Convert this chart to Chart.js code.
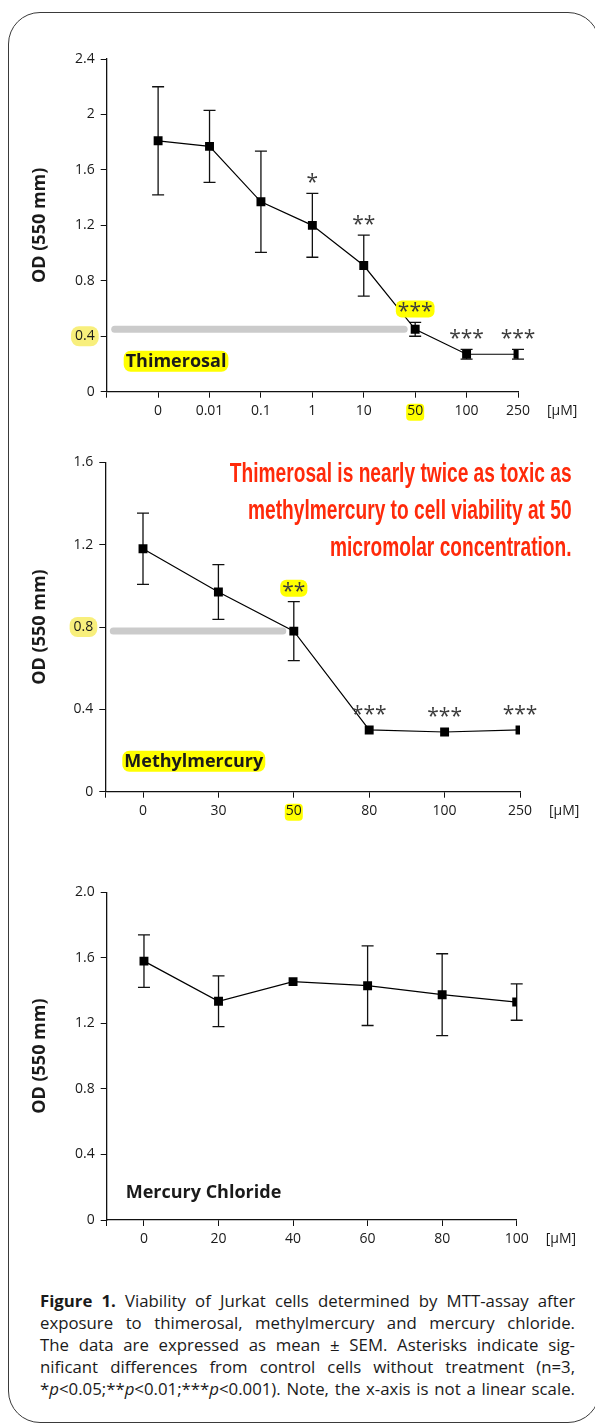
<!DOCTYPE html>
<html>
<head>
<meta charset="utf-8">
<title>Figure 1 - MTT viability</title>
<script src="https://cdn.jsdelivr.net/npm/chart.js@4.4.0/dist/chart.umd.min.js"></script>
<style>
  html, body { margin: 0; padding: 0; background: #fff; }
  body { width: 595px; height: 1425px; position: relative; overflow: hidden;
         font-family: 'Open Sans', 'Noto Sans', sans-serif; color: #1a1a1a; }
  .frame { position: absolute; left: 8px; top: 12px; width: 592px; height: 1411px;
           border: 1.3px solid #3a3a3a; border-radius: 32px; box-sizing: border-box; }
  canvas { position: absolute; left: 0; }
  #thimChart { top: 40px; }
  #methylChart { top: 440px; }
  #hgChart { top: 850px; }
  .note { position: absolute; right: 23px; top: 454px; white-space: nowrap;
          font-family: 'Liberation Sans', Arial, sans-serif; font-weight: bold;
          font-size: 28px; line-height: 37px; color: #ff2a0a; text-align: right;
          transform-origin: right top; }
  .caption { position: absolute; left: 40px; top: 1290px; width: 535px;
             font-size: 16.8px; line-height: 22px; color: #1a1a1a; }
  .caption .ln { white-space: nowrap; }
</style>
</head>
<body>
<div class="frame"></div>
<canvas id="thimChart" width="595" height="400"></canvas>
<canvas id="methylChart" width="595" height="400"></canvas>
<canvas id="hgChart" width="595" height="400"></canvas>

<div class="note" id="note">Thimerosal is nearly twice as toxic as<br>methylmercury to cell viability at 50<br>micromolar concentration.</div>

<div class="caption">
  <div class="ln"><span><b>Figure 1.</b> Viability of Jurkat cells determined by MTT-assay after</span></div>
  <div class="ln"><span>exposure to thimerosal, methylmercury and mercury chloride.</span></div>
  <div class="ln"><span>The data are expressed as mean ± SEM. Asterisks indicate sig-</span></div>
  <div class="ln"><span>nificant differences from control cells without treatment (n=3,</span></div>
  <div class="ln"><span>*<i>p</i>&lt;0.05;**<i>p</i>&lt;0.01;***<i>p</i>&lt;0.001). Note, the x-axis is not a linear scale.</span></div>
</div>

<script>
'use strict';

/* ----------------------------------------------------------
   DATA
---------------------------------------------------------- */
const thimLabels = ['0', '0.01', '0.1', '1', '10', '50', '100', '250'];
const thimMeans  = [1.81, 1.77, 1.37, 1.20, 0.91, 0.45, 0.27, 0.27];
const thimErrors = [0.39, 0.26, 0.365, 0.23, 0.22, 0.05, 0.035, 0.035];
const thimStars  = ['', '', '', '*', '**', '***', '***', '***'];
const thimYTicks = ['0', '0.4', '0.8', '1.2', '1.6', '2', '2.4'];

const methylLabels = ['0', '30', '50', '80', '100', '250'];
const methylMeans  = [1.18, 0.97, 0.78, 0.30, 0.29, 0.30];
const methylErrors = [0.173, 0.133, 0.143, 0, 0, 0];
const methylStars  = ['', '', '**', '***', '***', '***'];
const methylYTicks = ['0', '0.4', '0.8', '1.2', '1.6'];

const hgLabels = ['0', '20', '40', '60', '80', '100'];
const hgMeans  = [1.58, 1.335, 1.455, 1.43, 1.375, 1.33];
const hgErrors = [0.16, 0.155, 0, 0.243, 0.25, 0.111];
const hgStars  = ['', '', '', '', '', ''];
const hgYTicks = ['0', '0.4', '0.8', '1.2', '1.6', '2.0'];

/* ----------------------------------------------------------
   STYLE
---------------------------------------------------------- */
const FONT_FAMILY = "'Open Sans', 'Noto Sans', sans-serif";
const TEXT_COLOR  = '#1a1a1a';
const STAR_COLOR  = '#3c3c3c';
const YELLOW      = '#ffff00';
const PALE_YELLOW = '#f8ef7c';
const BAR_GREY    = '#cbcbcb';
const TICK_LEN    = 6;
const TICK_SIZE   = 14;

/* ----------------------------------------------------------
   ANNOTATION PLUGIN
   error bars, grey reference bar, asterisks, highlights, labels
---------------------------------------------------------- */
function roundRect(ctx, x, y, w, h, r, color) {
  ctx.save();
  ctx.fillStyle = color;
  ctx.beginPath();
  ctx.roundRect(x, y, w, h, r);
  ctx.fill();
  ctx.restore();
}

const annotations = {
  id: 'annotations',

  beforeDraw(chart) {
    const a = chart.options.plugins.annotations;
    const ctx = chart.ctx;
    const xs = chart.scales.x, ys = chart.scales.y;
    ctx.save();
    ctx.font = `${TICK_SIZE}px ${FONT_FAMILY}`;

    /* highlight behind a y tick label */
    if (a.yHighlight != null) {
      const label = a.yTicks[a.yHighlight];
      const w = ctx.measureText(label).width;
      const py = ys.getPixelForValue(ys.ticks[a.yHighlight].value);
      const right = ys.right - TICK_LEN - 6;
      roundRect(ctx, right - w - 4, py - 10, w + 8, 20, 8, PALE_YELLOW);
    }
    /* highlight behind an x tick label */
    if (a.xHighlight != null) {
      const label = a.labels[a.xHighlight];
      const w = ctx.measureText(label).width;
      const px = xs.getPixelForValue(a.xHighlight);
      const top = xs.top + TICK_LEN + 6;
      roundRect(ctx, px - w / 2 - 1, top, w + 2, 17, 4, YELLOW);
    }
    ctx.restore();
  },

  beforeDatasetsDraw(chart) {
    const a = chart.options.plugins.annotations;
    const ctx = chart.ctx;
    const xs = chart.scales.x, ys = chart.scales.y;
    const area = chart.chartArea;

    /* grey bar leading to the 50 µM point */
    if (a.barIndex != null) {
      const py = ys.getPixelForValue(a.means[a.barIndex]);
      const endX = xs.getPixelForValue(a.barIndex) - 11;
      ctx.save();
      ctx.strokeStyle = BAR_GREY;
      ctx.lineWidth = 7;
      ctx.lineCap = 'round';
      ctx.beginPath();
      ctx.moveTo(area.left + 8, py);
      ctx.lineTo(endX, py);
      ctx.stroke();
      ctx.restore();
    }

    /* error bars (mean ± SEM) */
    ctx.save();
    ctx.strokeStyle = '#111';
    ctx.lineWidth = 1.3;
    a.means.forEach((m, i) => {
      if (!a.errors[i]) return;
      const px = xs.getPixelForValue(i);
      const top = ys.getPixelForValue(m + a.errors[i]);
      const bot = ys.getPixelForValue(m - a.errors[i]);
      ctx.beginPath();
      ctx.moveTo(px, top); ctx.lineTo(px, bot);
      ctx.moveTo(px - 6, top); ctx.lineTo(px + 6, top);
      ctx.moveTo(px - 6, bot); ctx.lineTo(px + 6, bot);
      ctx.stroke();
    });
    ctx.restore();
  },

  afterDatasetsDraw(chart) {
    const a = chart.options.plugins.annotations;
    const ctx = chart.ctx;
    const xs = chart.scales.x, ys = chart.scales.y;
    const area = chart.chartArea;

    /* asterisks above the error bars */
    ctx.save();
    ctx.font = `21px ${FONT_FAMILY}`;
    ctx.textAlign = 'center';
    a.stars.forEach((s, i) => {
      if (!s) return;
      const px = xs.getPixelForValue(i);
      const top = Math.min(ys.getPixelForValue(a.means[i] + a.errors[i]),
                           ys.getPixelForValue(a.means[i]) - 5);
      const cy = top - 15;
      const m = ctx.measureText(s);
      if (i === a.starHighlight) {
        roundRect(ctx, px - m.width / 2 - 2, cy - 7, m.width + 4, 17, 6, YELLOW);
      }
      ctx.fillStyle = STAR_COLOR;
      ctx.fillText(s, px, cy + (m.actualBoundingBoxAscent - m.actualBoundingBoxDescent) / 2);
    });
    ctx.restore();

    /* compound name inside the plot */
    ctx.save();
    ctx.font = `bold 18px ${FONT_FAMILY}`;
    ctx.textBaseline = 'middle';
    const tx = area.left + 19, ty = area.bottom - a.nameOffset;
    if (a.nameHighlight) {
      const w = ctx.measureText(a.name).width;
      roundRect(ctx, tx - 2, ty - 10, w + 4, 21, 7, YELLOW);
    }
    ctx.fillStyle = TEXT_COLOR;
    ctx.fillText(a.name, tx, ty + 1);

    /* unit label at the end of the x axis */
    ctx.font = `${TICK_SIZE}px ${FONT_FAMILY}`;
    ctx.textBaseline = 'middle';
    ctx.fillStyle = TEXT_COLOR;
    ctx.fillText('[µM]', area.right + 29, xs.top + 19);
    ctx.restore();
  },
};

/* ----------------------------------------------------------
   CHART BUILDER
---------------------------------------------------------- */
function buildChart(canvasId, labels, means, errors, stars, yTicks, opts) {
  const yStep = 0.4;
  const yMax = yStep * (yTicks.length - 1);

  return new Chart(document.getElementById(canvasId), {
    type: 'line',
    data: {
      datasets: [{
        data: means.map((m, i) => ({ x: i, y: m })),
        borderColor: '#000',
        borderWidth: 1.2,
        backgroundColor: '#000',
        pointStyle: 'rect',
        pointRadius: 6.3,
        pointBorderWidth: 0,
        tension: 0,
      }],
    },
    options: {
      responsive: false,
      animation: false,
      events: [],
      layout: { padding: opts.padding },
      scales: {
        x: {
          type: 'linear',
          min: opts.xMin,
          max: labels.length - 1,
          afterBuildTicks(scale) {
            scale.ticks = [{ value: opts.xMin }].concat(labels.map((l, i) => ({ value: i })));
          },
          afterFit(scale) { scale.height = 30; },
          ticks: {
            color: TEXT_COLOR,
            font: { family: FONT_FAMILY, size: TICK_SIZE },
            padding: 5,
            maxRotation: 0,
            autoSkip: false,
            callback: (v) => (v >= 0 && Number.isInteger(v) ? labels[v] : ''),
          },
          grid: { display: true, drawOnChartArea: false, drawTicks: true,
                  tickLength: TICK_LEN, color: '#111', lineWidth: 1 },
          border: { display: true, color: '#111', width: 1.3 },
        },
        y: {
          min: 0,
          max: yMax,
          afterBuildTicks(scale) {
            scale.ticks = yTicks.map((t, i) => ({ value: i * yStep }));
          },
          afterFit(scale) { scale.width = opts.axisLeft; },
          ticks: {
            color: TEXT_COLOR,
            font: { family: FONT_FAMILY, size: TICK_SIZE },
            padding: 6,
            autoSkip: false,
            callback: (v, i) => yTicks[i],
          },
          grid: { display: true, drawOnChartArea: false, drawTicks: true,
                  tickLength: TICK_LEN, color: '#111', lineWidth: 1 },
          border: { display: true, color: '#111', width: 1.3 },
          title: {
            display: true,
            text: 'OD (550 mm)',
            color: TEXT_COLOR,
            font: { family: FONT_FAMILY, size: 18, weight: 'bold' },
            padding: { top: 29, bottom: 0 },
          },
        },
      },
      plugins: {
        legend: { display: false },
        tooltip: { enabled: false },
        annotations: Object.assign({ labels, means, errors, stars, yTicks }, opts.notes),
      },
    },
    plugins: [annotations],
  });
}

/* ----------------------------------------------------------
   INIT
---------------------------------------------------------- */
buildChart('thimChart', thimLabels, thimMeans, thimErrors, thimStars, thimYTicks, {
  xMin: -1, axisLeft: 106.7,
  padding: { top: 19, bottom: 18.3, left: 0, right: 77 },
  notes: { name: 'Thimerosal', nameHighlight: true, nameOffset: 31,
           yHighlight: 1, xHighlight: 5, starHighlight: 5, barIndex: 5 },
});

buildChart('methylChart', methylLabels, methylMeans, methylErrors, methylStars, methylYTicks, {
  xMin: -0.5, axisLeft: 105.3,
  padding: { top: 22.3, bottom: 18.3, left: 0, right: 75 },
  notes: { name: 'Methylmercury', nameHighlight: true, nameOffset: 31,
           yHighlight: 2, xHighlight: 2, starHighlight: 2, barIndex: 2 },
});

buildChart('hgChart', hgLabels, hgMeans, hgErrors, hgStars, hgYTicks, {
  xMin: -0.5, axisLeft: 106.7,
  padding: { top: 42.3, bottom: 0, left: 0, right: 78.3 },
  notes: { name: 'Mercury Chloride', nameHighlight: false, nameOffset: 28,
           yHighlight: null, xHighlight: null, starHighlight: null, barIndex: null },
});

/* ----------------------------------------------------------
   TEXT FITTING
   Squeeze the red note to its width in the figure and
   justify each caption line to the full column width.
---------------------------------------------------------- */
const note = document.getElementById('note');
note.style.transform = `scaleX(${342 / note.offsetWidth})`;

document.querySelectorAll('.caption .ln span').forEach(span => {
  const spaces = (span.textContent.match(/ /g) || []).length;
  const extra = 535 - span.getBoundingClientRect().width;
  span.style.wordSpacing = `${extra / spaces}px`;
});
</script>
</body>
</html>
